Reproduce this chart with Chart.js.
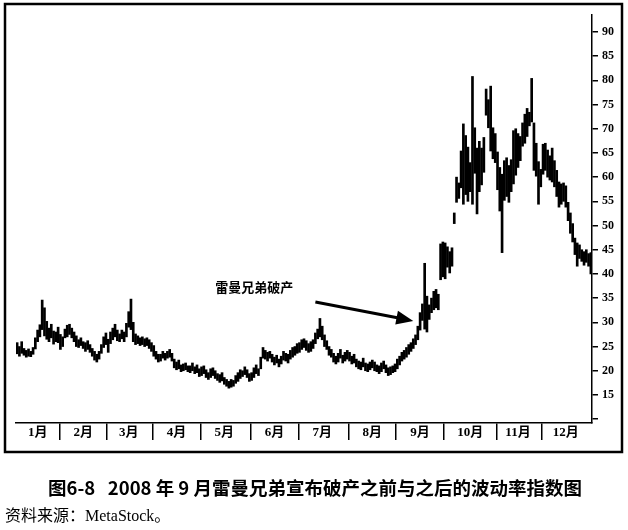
<!DOCTYPE html>
<html>
<head>
<meta charset="utf-8">
<script src="https://cdn.jsdelivr.net/npm/chart.js@4/dist/chart.umd.min.js"></script>
<style>
  body { margin: 0; background: #fff; }
  canvas { display: block; }
</style>
</head>
<body>
<canvas id="vix" width="628" height="530"></canvas>
<script>
// months along the bottom and how many trading days each one holds
const monthLabels = ['1月', '2月', '3月', '4月', '5月', '6月', '7月', '8月', '9月', '10月', '11月', '12月'];
const monthDays = [19, 21, 20, 21, 22, 21, 22, 21, 21, 23, 20, 22];

// daily low / high of the index, one row per month
const lows = [
  23.5,23.0,23.6,23.2,22.8,23.0,22.9,23.4,24.5,26.0,27.0,28.5,27.2,26.5,26.0,26.8,25.5,26.0,25.8,
  24.4,25.0,26.8,27.0,27.5,26.8,26.0,25.0,24.8,25.2,24.6,24.0,24.4,23.8,23.0,22.2,21.8,22.4,23.6,24.8,25.4,
  23.8,25.6,26.4,27.0,26.2,26.0,26.6,26.0,27.0,29.0,28.5,26.0,25.4,25.6,25.2,25.4,25.0,25.2,24.6,24.0,
  23.0,22.4,21.8,22.0,22.6,22.2,22.6,22.8,22.0,20.6,20.2,20.4,19.8,20.0,20.2,19.8,19.6,20.0,19.4,19.6,18.8,
  19.0,19.4,18.6,18.2,18.6,19.0,18.4,18.0,17.6,17.9,17.2,16.8,16.4,16.6,16.8,17.4,17.8,18.4,18.8,19.2,18.6,17.8,
  18.0,18.6,19.4,19.0,20.4,22.6,22.4,22.0,22.6,21.8,21.2,21.6,20.8,21.4,22.2,22.0,21.6,22.4,22.8,23.2,23.6,
  23.8,24.4,24.8,24.2,23.8,24.0,24.6,25.6,26.6,27.0,26.4,25.0,24.4,23.2,22.8,21.8,21.4,21.8,22.6,21.6,22.0,22.4,
  22.0,21.4,21.6,20.8,20.4,20.2,20.8,20.0,19.8,20.2,20.6,20.0,19.8,19.4,19.8,20.4,19.6,19.0,19.2,19.6,19.8,
  20.4,21.2,22.0,22.4,22.8,23.4,24.0,24.6,25.4,26.4,28.4,30.4,28.6,28.0,30.6,32.0,32.6,33.0,32.6,38.8,39.4,
  39.0,41.4,40.2,41.6,50.4,54.8,55.6,57.8,54.4,56.4,55.0,57.0,54.4,60.8,52.4,57.0,58.4,61.0,72.8,70.2,65.4,63.8,63.0,
  57.4,53.0,44.4,55.2,56.0,54.8,57.0,58.6,60.4,62.0,63.4,66.4,67.0,68.4,70.6,71.4,61.4,60.2,54.4,58.0,
  60.6,61.4,60.0,59.4,59.0,58.0,56.0,53.8,54.4,55.0,53.8,51.0,48.4,46.6,44.0,41.6,43.2,42.6,41.8,42.4,41.6,40.0
];
const highs = [
  25.8,25.0,26.0,24.6,24.2,24.5,24.0,24.8,26.8,28.4,29.5,34.6,33.0,30.2,28.8,29.6,28.2,28.0,29.0,
  27.5,27.0,28.6,29.4,29.6,28.8,28.0,27.2,26.4,26.8,26.0,25.8,26.2,25.4,24.6,24.0,23.4,24.0,25.4,27.0,27.8,
  26.5,28.0,28.8,29.6,28.4,27.6,28.4,28.0,29.8,32.2,34.8,30.0,27.6,27.2,26.8,27.0,26.6,26.8,26.4,25.8,
  25.2,24.0,23.4,23.4,24.0,23.6,24.0,24.4,23.6,22.4,21.8,22.2,21.2,21.4,21.6,21.0,21.0,21.6,20.8,21.2,20.4,
  20.8,21.0,20.2,19.6,20.4,20.6,20.0,19.4,19.2,19.6,18.6,18.2,17.8,18.2,18.0,19.0,19.6,20.2,20.0,20.8,20.2,19.4,
  19.6,20.6,21.2,20.4,22.8,24.8,24.2,23.8,24.0,23.4,22.8,23.2,22.4,23.0,24.0,23.6,23.4,24.2,24.8,25.0,25.6,
  25.8,26.4,26.6,26.2,25.6,26.0,26.4,27.8,28.6,30.8,29.2,27.4,26.2,25.0,24.4,23.6,23.0,23.6,24.4,23.2,23.8,24.2,
  23.8,23.0,23.4,22.4,22.0,21.8,22.6,21.6,21.4,21.8,22.2,21.8,21.2,21.0,21.6,22.0,21.2,20.6,20.8,21.0,21.4,
  22.4,23.0,23.8,24.2,24.8,25.4,25.8,26.6,27.4,29.2,32.0,33.8,42.2,35.4,33.6,35.0,36.4,36.8,35.8,46.2,46.6,
  46.4,45.6,44.6,45.4,52.6,60.0,58.8,65.4,71.0,68.6,66.2,63.0,80.8,70.2,66.0,67.4,66.0,68.2,78.2,76.0,78.8,70.2,69.0,
  65.2,62.0,60.6,63.4,64.0,62.4,63.6,69.6,70.0,69.0,68.4,71.2,73.0,74.2,73.4,80.4,71.2,67.0,63.2,61.6,
  66.8,67.0,65.6,64.4,66.0,63.4,61.4,59.0,58.6,58.8,58.2,54.8,52.6,50.4,47.4,46.4,46.0,45.0,44.6,45.0,44.2,44.4
];

const yTickValues = [10, 15, 20, 25, 30, 35, 40, 45, 50, 55, 60, 65, 70, 75, 80, 85, 90];

const eventLabel = '雷曼兄弟破产';
const captionTitle = '图6-8   2008 年 9 月雷曼兄弟宣布破产之前与之后的波动率指数图';
const captionSource = '资料来源：MetaStock。';

// where each month starts, and the day under which its label sits
const monthStarts = [];
const monthMids = {};
let dayCount = 0;
monthDays.forEach((n, m) => {
  monthStarts.push(dayCount);
  monthMids[Math.floor(dayCount + (n - 1) / 2)] = monthLabels[m];
  dayCount += n;
});
const days = lows.map((_, i) => i);

const serif = "'Liberation Serif', 'Noto Sans CJK SC', serif";

// frame, arrow note and caption
const extras = {
  id: 'extras',
  afterDraw(chart) {
    const { ctx, scales: { x, y } } = chart;
    ctx.save();
    ctx.strokeStyle = '#000';
    ctx.lineWidth = 2.5;
    ctx.strokeRect(5, 4, 617, 448);

    // note text
    ctx.fillStyle = '#000';
    ctx.font = "bold 13px 'Noto Sans CJK SC', sans-serif";
    ctx.textAlign = 'left';
    ctx.textBaseline = 'middle';
    ctx.fillText(eventLabel, x.getPixelForValue(87), y.getPixelForValue(37.3));

    // arrow towards the bankruptcy day
    const sx = x.getPixelForValue(131), sy = y.getPixelForValue(34.2);
    const tx = x.getPixelForValue(174), ty = y.getPixelForValue(30.3);
    const ang = Math.atan2(ty - sy, tx - sx);
    const head = 17;
    ctx.lineWidth = 3;
    ctx.beginPath();
    ctx.moveTo(sx, sy);
    ctx.lineTo(tx - head * 0.8 * Math.cos(ang), ty - head * 0.8 * Math.sin(ang));
    ctx.stroke();
    ctx.beginPath();
    ctx.moveTo(tx, ty);
    ctx.lineTo(tx - head * Math.cos(ang) + 7 * Math.sin(ang), ty - head * Math.sin(ang) - 7 * Math.cos(ang));
    ctx.lineTo(tx - head * Math.cos(ang) - 7 * Math.sin(ang), ty - head * Math.sin(ang) + 7 * Math.cos(ang));
    ctx.closePath();
    ctx.fill();

    // caption below the frame
    ctx.textAlign = 'center';
    ctx.font = "bold 18.5px 'Noto Sans CJK SC', sans-serif";
    ctx.fillText(captionTitle, 315, 488);
    ctx.textAlign = 'left';
    ctx.font = "16px 'Liberation Serif', 'Noto Sans CJK SC', serif";
    ctx.fillText(captionSource, 5, 517);
    ctx.restore();
  }
};

new Chart(document.getElementById('vix'), {
  type: 'bar',
  data: {
    labels: days,
    datasets: [{
      data: days.map(i => [lows[i], highs[i]]),
      backgroundColor: '#000',
      borderWidth: 0,
      barThickness: 2
    }]
  },
  options: {
    responsive: false,
    animation: false,
    layout: { padding: { left: 16, right: 0, top: 15, bottom: 78 } },
    plugins: { legend: { display: false }, tooltip: { enabled: false } },
    scales: {
      x: {
        type: 'category',
        offset: true,
        border: { display: true, color: '#000', width: 1.5 },
        grid: {
          offset: true,
          drawOnChartArea: false,
          tickLength: 17,
          lineWidth: 1.5,
          color: ctx => (ctx.index > 0 && monthStarts.includes(ctx.index)) ? '#000' : 'rgba(0,0,0,0)'
        },
        ticks: {
          autoSkip: false,
          maxRotation: 0,
          minRotation: 0,
          padding: -15,
          color: '#000',
          font: { family: serif, size: 13, weight: 'bold' },
          callback: (v, i) => monthMids[i] || ''
        },
        afterFit: s => { s.height = 29; }
      },
      y: {
        position: 'right',
        min: 9.2,
        max: 93.5,
        border: { display: true, color: '#000', width: 1.5 },
        grid: { drawOnChartArea: false, tickLength: 6, color: '#000', lineWidth: 1.5 },
        ticks: {
          padding: 4,
          color: '#000',
          font: { family: serif, size: 12, weight: 'bold' },
          callback: v => (v === 10 ? '' : v)
        },
        afterBuildTicks: s => { s.ticks = yTickValues.map(v => ({ value: v })); },
        afterFit: s => { s.width = 36; }
      }
    }
  },
  plugins: [extras]
});
</script>
</body>
</html>
